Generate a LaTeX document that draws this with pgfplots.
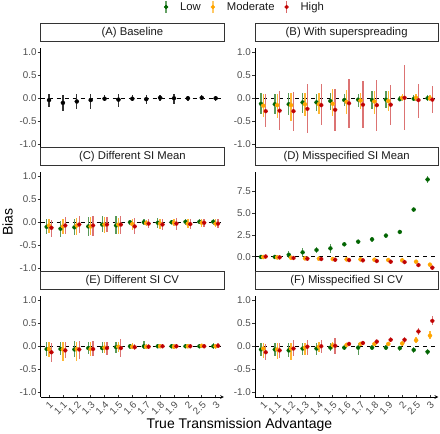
\documentclass[border=0pt]{standalone}
\usepackage{pgfplots}
\usepackage{pgfplotstable}
\pgfplotsset{compat=1.18}
\usepackage{fontspec}
\setmainfont{Liberation Sans}

\definecolor{lowc}{HTML}{006400}
\definecolor{modc}{HTML}{FFA500}
\definecolor{highc}{HTML}{C00000}
\colorlet{lowbar}{lowc!65}
\colorlet{modbar}{modc!80}
\colorlet{highbar}{highc!55}
\colorlet{blackbar}{black!80}
\definecolor{gray30}{HTML}{4D4D4D}
\definecolor{gray20}{HTML}{333333}
\definecolor{gray10}{HTML}{1A1A1A}

% Panel A: single series
\pgfplotstableread{
i y lo hi
0 -0.04 -0.20 0.10
1 -0.10 -0.27 0.06
2 -0.07 -0.24 0.10
3 -0.04 -0.24 0.10
4 -0.01 -0.07 0.07
5 -0.03 -0.18 0.10
6 -0.01 -0.07 0.06
7 -0.02 -0.12 0.07
8 0.01 -0.05 0.07
9 0.00 -0.13 0.10
10 0.00 -0.05 0.05
11 0.01 -0.04 0.06
12 0.00 -0.05 0.05
}\tabA

\pgfplotstableread{
i Ly Llo Lhi My Mlo Mhi Hy Hlo Hhi
0 -0.12 -0.34 0.11 -0.16 -0.41 0.09 -0.28 -0.63 0.09
1 -0.13 -0.34 0.09 -0.15 -0.43 0.09 -0.27 -0.68 0.16
2 -0.13 -0.37 0.11 -0.15 -0.49 0.12 -0.28 -0.71 0.14
3 -0.09 -0.32 0.12 -0.13 -0.39 0.12 -0.23 -0.76 0.31
4 -0.09 -0.28 0.09 -0.13 -0.35 0.12 -0.15 -0.59 0.31
5 -0.06 -0.26 0.12 -0.12 -0.39 0.20 -0.25 -0.72 0.20
6 -0.04 -0.17 0.09 -0.08 -0.34 0.18 -0.11 -0.65 0.42
7 -0.03 -0.19 0.09 -0.05 -0.24 0.12 -0.14 -0.65 0.38
8 -0.04 -0.24 0.16 -0.07 -0.35 0.16 -0.15 -0.71 0.40
9 -0.03 -0.21 0.16 -0.06 -0.28 0.16 -0.14 -0.57 0.29
10 -0.02 -0.07 0.05 0.01 -0.06 0.09 0.01 -0.68 0.71
11 -0.01 -0.07 0.06 0.01 -0.06 0.09 -0.04 -0.43 0.31
12 0.00 -0.07 0.06 0.00 -0.07 0.07 -0.03 -0.33 0.27
}\tabB

\pgfplotstableread{
i Ly Llo Lhi My Mlo Mhi Hy Hlo Hhi
0 -0.10 -0.25 0.06 -0.07 -0.23 0.07 -0.12 -0.33 0.04
1 -0.14 -0.32 0.02 -0.09 -0.25 0.06 -0.07 -0.25 0.12
2 -0.11 -0.27 0.07 -0.07 -0.27 0.09 -0.05 -0.23 0.13
3 -0.09 -0.29 0.12 -0.09 -0.27 0.12 -0.07 -0.29 0.13
4 -0.05 -0.22 0.14 -0.05 -0.23 0.12 -0.05 -0.22 0.12
5 -0.07 -0.25 0.13 -0.05 -0.25 0.09 -0.05 -0.25 0.13
6 0.00 -0.05 0.04 -0.04 -0.16 0.06 -0.09 -0.25 0.09
7 0.00 -0.07 0.06 -0.02 -0.09 0.04 -0.03 -0.12 0.07
8 -0.01 -0.12 0.09 -0.03 -0.14 0.07 -0.05 -0.16 0.07
9 0.00 -0.04 0.04 -0.01 -0.09 0.06 -0.03 -0.16 0.09
10 0.01 -0.05 0.06 -0.03 -0.12 0.06 -0.04 -0.14 0.06
11 0.01 -0.04 0.06 -0.01 -0.10 0.07 -0.01 -0.10 0.07
12 0.01 -0.05 0.07 -0.03 -0.10 0.06 -0.03 -0.12 0.06
}\tabC

\pgfplotstableread{
i Ly Llo Lhi My Mlo Mhi Hy Hlo Hhi
0 -0.03 -0.23 0.20 -0.04 -0.09 0.01 0.02 -0.04 0.08
1 -0.03 -0.27 0.25 -0.08 -0.13 -0.03 -0.08 -0.14 -0.02
2 0.23 -0.15 0.69 -0.12 -0.17 -0.07 -0.15 -0.21 -0.09
3 0.50 0.00 1.00 -0.19 -0.24 -0.14 -0.23 -0.29 -0.17
4 0.77 0.39 1.16 -0.23 -0.28 -0.18 -0.27 -0.33 -0.21
5 0.96 0.39 1.46 -0.27 -0.32 -0.22 -0.35 -0.41 -0.29
6 1.43 1.20 1.66 -0.31 -0.36 -0.26 -0.39 -0.45 -0.33
7 1.73 1.50 1.97 -0.31 -0.36 -0.26 -0.42 -0.48 -0.36
8 2.00 1.70 2.31 -0.35 -0.40 -0.30 -0.50 -0.56 -0.44
9 2.43 2.20 2.66 -0.39 -0.44 -0.34 -0.58 -0.64 -0.52
10 2.85 2.62 3.08 -0.42 -0.47 -0.37 -0.62 -0.68 -0.56
11 5.43 5.24 5.63 -0.58 -0.64 -0.52 -0.96 -1.02 -0.90
12 8.90 8.55 9.25 -0.92 -0.98 -0.86 -1.27 -1.34 -1.20
}\tabD

\pgfplotstableread{
i Ly Llo Lhi My Mlo Mhi Hy Hlo Hhi
0 -0.06 -0.22 0.10 -0.06 -0.24 0.10 -0.13 -0.35 0.07
1 -0.06 -0.19 0.10 -0.07 -0.31 0.09 -0.09 -0.26 0.10
2 -0.07 -0.24 0.12 -0.06 -0.33 0.10 -0.07 -0.28 0.12
3 -0.04 -0.17 0.10 -0.06 -0.22 0.10 -0.06 -0.22 0.12
4 -0.04 -0.14 0.10 -0.03 -0.14 0.10 -0.04 -0.19 0.10
5 -0.02 -0.14 0.09 -0.01 -0.12 0.09 -0.04 -0.24 0.16
6 0.00 -0.06 0.05 -0.01 -0.07 0.07 -0.02 -0.09 0.05
7 0.00 -0.07 0.12 -0.01 -0.04 0.04 -0.01 -0.04 0.04
8 0.00 -0.04 0.04 0.00 -0.04 0.04 0.00 -0.04 0.04
9 0.00 -0.04 0.05 -0.01 -0.06 0.05 0.00 -0.04 0.04
10 0.00 -0.04 0.05 0.00 -0.04 0.04 0.00 -0.04 0.04
11 0.00 -0.04 0.05 0.01 -0.04 0.05 0.00 -0.04 0.04
12 0.00 -0.06 0.07 0.00 -0.05 0.05 0.01 -0.04 0.06
}\tabE

\pgfplotstableread{
i Ly Llo Lhi My Mlo Mhi Hy Hlo Hhi
0 -0.07 -0.21 0.08 -0.05 -0.25 0.08 -0.13 -0.29 0.04
1 -0.07 -0.21 0.08 -0.07 -0.28 0.08 -0.09 -0.25 0.08
2 -0.09 -0.24 0.08 -0.05 -0.30 0.08 -0.05 -0.21 0.13
3 -0.05 -0.18 0.08 -0.03 -0.20 0.08 -0.01 -0.18 0.13
4 -0.05 -0.18 0.08 -0.01 -0.12 0.10 0.00 -0.14 0.13
5 -0.03 -0.10 0.06 0.02 -0.06 0.10 0.01 -0.16 0.18
6 -0.03 -0.08 0.02 0.03 -0.03 0.08 0.05 0.00 0.10
7 -0.03 -0.18 0.08 0.05 0.00 0.10 0.07 0.02 0.12
8 -0.03 -0.08 0.02 0.05 0.00 0.10 0.10 0.05 0.14
9 -0.03 -0.08 0.02 0.05 0.00 0.10 0.14 0.09 0.19
10 -0.04 -0.10 0.01 0.06 0.00 0.12 0.14 0.08 0.20
11 -0.08 -0.14 -0.01 0.13 0.06 0.21 0.32 0.25 0.39
12 -0.12 -0.19 -0.05 0.23 0.15 0.32 0.55 0.45 0.65
}\tabF

% one pointrange series: table, y, lo, hi, x offset, point colour, bar colour
\newcommand\pr[7]{%
\addplot[only marks, mark=none, forget plot, #7,
  error bars/.cd, y dir=both, y explicit, error mark=none,
  error bar style={line width=1.3pt, #7}]
  table[x expr=\thisrow{i}#5, y=#2,
        y error plus expr=\thisrow{#4}-\thisrow{#2},
        y error minus expr=\thisrow{#2}-\thisrow{#3}] {#1};
\addplot[only marks, mark=*, mark size=1.9pt, #6, forget plot]
  table[x expr=\thisrow{i}#5, y=#2] {#1};
}
\newcommand\zeroline{\addplot[black, line width=0.6pt, dash pattern=on 4pt off 4pt, forget plot] coordinates {(-0.6,0) (12.6,0)};}
\newcommand\three[1]{\pr{#1}{Ly}{Llo}{Lhi}{-0.17}{lowc}{lowbar}\pr{#1}{My}{Mlo}{Mhi}{+0}{modc}{modbar}\pr{#1}{Hy}{Hlo}{Hhi}{+0.17}{highc}{highbar}}

\pgfplotsset{
  panel/.style={
    scale only axis, width=183.3pt, height=101.5pt,
    anchor=north west,
    xmin=-0.6, xmax=12.6,
    ymin=-1.1, ymax=1.1,
    ytick={-1,-0.5,0,0.5,1},
    axis y line=left,
    axis line style={-, line width=0.7pt, black},
    tick align=outside, major tick length=3pt,
    tick style={line width=0.6pt, gray20},
    yticklabel style={font=\fontsize{9.8}{11}\selectfont, text=gray30, inner sep=1pt,
      /pgf/number format/.cd, fixed, fixed zerofill, precision=1, assume math mode=true},
    title style={at={(0.5,1)}, anchor=south, draw=gray20, line width=0.8pt, fill=white,
      minimum width=183.3pt, minimum height=17.8pt, inner sep=0pt, yshift=0pt,
      font=\fontsize{11.3}{13}\selectfont, text=gray10},
    clip=false,
  },
  toprow/.style={axis x line=none, xtick=\empty},
  botrow/.style={axis x line=bottom, xtick={0,...,12},
    xticklabels={1,1.1,1.2,1.3,1.4,1.5,1.6,1.7,1.8,1.9,2,2.5,3},
    xticklabel style={rotate=45, anchor=north east, font=\fontsize{9.8}{11}\selectfont, text=gray30, inner sep=1.5pt}},
}

\begin{document}
\begin{tikzpicture}
\useasboundingbox (0,0) rectangle (440pt,-434pt);

% (A)
\begin{axis}[panel, toprow, at={(40.7pt,-47.5pt)}, title={(A) Baseline},
  legend columns=3,
  legend style={at={(axis description cs:1.109,1.399)}, anchor=center, draw=none, fill=none,
    font=\fontsize{11.3}{13}\selectfont, text=gray10,
    /tikz/every even column/.append style={column sep=6pt},
    nodes={inner sep=2pt}},
  legend image code/.code={%
    \path[draw=none, fill=none] (0pt,0pt) rectangle (16pt,1pt);
    \draw[line width=1.3pt, draw opacity=0.6] (4pt,-6pt) -- (4pt,6pt);
    \fill (4pt,0pt) circle (1.9pt);}]
\addlegendimage{lowc}
\addlegendentry{Low}
\addlegendimage{modc}
\addlegendentry{Moderate}
\addlegendimage{highc}
\addlegendentry{High}
\zeroline
\pr{\tabA}{y}{lo}{hi}{+0}{black}{blackbar}
\end{axis}

% (B)
\begin{axis}[panel, toprow, at={(255pt,-47.5pt)}, title={(B) With superspreading}]
\zeroline
\three{\tabB}
\end{axis}

% (C)
\begin{axis}[panel, toprow, at={(40.7pt,-171.5pt)}, title={(C) Different SI Mean},
  ylabel={Bias},
  ylabel style={at={(axis description cs:-0.18,0.5)}, anchor=center, font=\fontsize{14}{16}\selectfont, text=black}]
\zeroline
\three{\tabC}
\end{axis}

% (D)
\begin{axis}[panel, toprow, at={(255pt,-171.5pt)}, title={(D) Misspecified SI Mean},
  ymin=-1.88, ymax=9.82, ytick={0,2.5,5,7.5}]
\zeroline
\three{\tabD}
\end{axis}

% (E)
\begin{axis}[panel, botrow, at={(40.7pt,-295.5pt)}, title={(E) Different SI CV},
  xlabel={True Transmission Advantage},
  xlabel style={at={(axis description cs:1.084,-0.276)}, anchor=center, font=\fontsize{14}{16}\selectfont, text=black}]
\zeroline
\three{\tabE}
\end{axis}

% (F)
\begin{axis}[panel, botrow, at={(255pt,-295.5pt)}, title={(F) Misspecified SI CV}]
\zeroline
\three{\tabF}
\end{axis}
\end{tikzpicture}
\end{document}
